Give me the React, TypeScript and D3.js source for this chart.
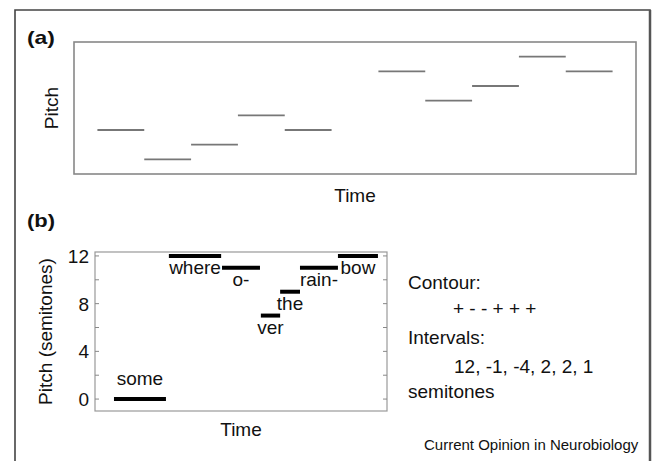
import React from "react";
import * as d3 from "d3";

// Panel (a): abstract melody (pitch levels by time slot)
const aSlots = [0, 1, 2, 3, 4, 6, 7, 8, 9, 10];
const aPitch = [2, 0, 1, 3, 2, 6, 4, 5, 7, 6];

// Panel (b): "Somewhere over the rainbow"
const bSyllables = ["some", "where", "o-", "ver", "the", "rain-", "bow"];
const bOnset = [6.5, 25.3, 43.5, 56.8, 63.4, 70.2, 83.2];
const bOffset = [24.3, 43.2, 56.5, 63.4, 70.2, 83.2, 96.9];
const bPitch = [0, 12, 11, 7, 9, 11, 12];
const bLabelAbove = [true, false, false, false, false, false, false];
const bTicks = [0, 2, 4, 6, 8, 10, 12];
const bTickLabels = [0, 4, 8, 12];

const contourText = "+ - - + + +";
const intervalsText = "12, -1, -4, 2, 2, 1";

const FONT = "'Liberation Sans', Arial, Helvetica, sans-serif";

export default function App() {
  const W = 653;
  const H = 461;

  // panel a geometry
  const aL = 74, aR = 636, aT = 42, aB = 174;
  const xA = d3.scaleLinear().domain([-0.5, 11.5]).range([aL, aR]);
  const yA = d3.scaleLinear().domain([-1, 8]).range([aB, aT]);

  // panel b geometry
  const bL = 95, bR = 387, bT = 252, bB = 411;
  const xB = d3.scaleLinear().domain([0, 100]).range([bL, bR]);
  const yB = d3.scaleLinear().domain([-1, 12.33]).range([bB, bT]);

  return (
    <svg
      width={W}
      height={H}
      style={{ position: "absolute", left: 0, top: 0, background: "#fff" }}
      fontFamily={FONT}
    >
      <rect x={0} y={0} width={W} height={H} fill="#fff" />
      {/* outer frame */}
      <path d={`M15,${H + 5} V10 H650 V${H + 5}`} fill="none" stroke="#444" strokeWidth={1.6} />
      <line x1={650} y1={10} x2={650} y2={H} stroke="#555" strokeWidth={2.5} />

      {/* Panel (a) */}
      <text x={27} y={44} fontSize={19} fontWeight="bold" fill="#111" textLength={28} lengthAdjust="spacingAndGlyphs">(a)</text>
      <rect x={aL} y={aT} width={aR - aL} height={aB - aT} fill="none" stroke="#888" strokeWidth={1.6} />
      {aSlots.map((s, i) => (
        <line
          key={i}
          x1={xA(s)}
          x2={xA(s + 1)}
          y1={yA(aPitch[i])}
          y2={yA(aPitch[i])}
          stroke="#777"
          strokeWidth={1.8}
        />
      ))}
      <text
        transform={`translate(58,${(aT + aB) / 2}) rotate(-90)`}
        textAnchor="middle"
        fontSize={19}
        fill="#111"
      >
        Pitch
      </text>
      <text x={(aL + aR) / 2} y={202} textAnchor="middle" fontSize={19} fill="#111">Time</text>

      {/* Panel (b) */}
      <text x={27} y={227} fontSize={19} fontWeight="bold" fill="#111" textLength={28} lengthAdjust="spacingAndGlyphs">(b)</text>
      <rect x={bL} y={bT} width={bR - bL} height={bB - bT} fill="none" stroke="#999" strokeWidth={1.2} />
      {bTicks.map((t) => (
        <g key={t}>
          <line x1={bL} x2={bL + 4} y1={yB(t)} y2={yB(t)} stroke="#888" strokeWidth={1} />
          <line x1={bR - 4} x2={bR} y1={yB(t)} y2={yB(t)} stroke="#888" strokeWidth={1} />
        </g>
      ))}
      {bTickLabels.map((t) => (
        <text key={t} x={bL - 6} y={yB(t) + 7} textAnchor="end" fontSize={19} fill="#111">
          {t}
        </text>
      ))}
      {bSyllables.map((s, i) => {
        const y = yB(bPitch[i]);
        const cx = (xB(bOnset[i]) + xB(bOffset[i])) / 2;
        return (
          <g key={s}>
            <line x1={xB(bOnset[i])} x2={xB(bOffset[i])} y1={y} y2={y} stroke="#000" strokeWidth={4} />
            <text
              x={cx}
              y={bLabelAbove[i] ? y - 14 : y + 18.5}
              textAnchor="middle"
              fontSize={19}
              fill="#111"
            >
              {s}
            </text>
          </g>
        );
      })}
      <text
        transform={`translate(52,${(bT + bB) / 2}) rotate(-90)`}
        textAnchor="middle"
        fontSize={19}
        fill="#111"
      >
        Pitch (semitones)
      </text>
      <text x={(bL + bR) / 2} y={436} textAnchor="middle" fontSize={19} fill="#111">Time</text>

      {/* Right-hand text */}
      <text x={408} y={289} fontSize={19} fill="#111">Contour:</text>
      <text x={453} y={315} fontSize={19} fill="#111">{contourText}</text>
      <text x={408} y={344} fontSize={19} fill="#111">Intervals:</text>
      <text x={454} y={373} fontSize={19} fill="#111">{intervalsText}</text>
      <text x={408} y={398} fontSize={19} fill="#111">semitones</text>
      <text x={424} y={450} fontSize={15} fill="#111">Current Opinion in Neurobiology</text>
    </svg>
  );
}
